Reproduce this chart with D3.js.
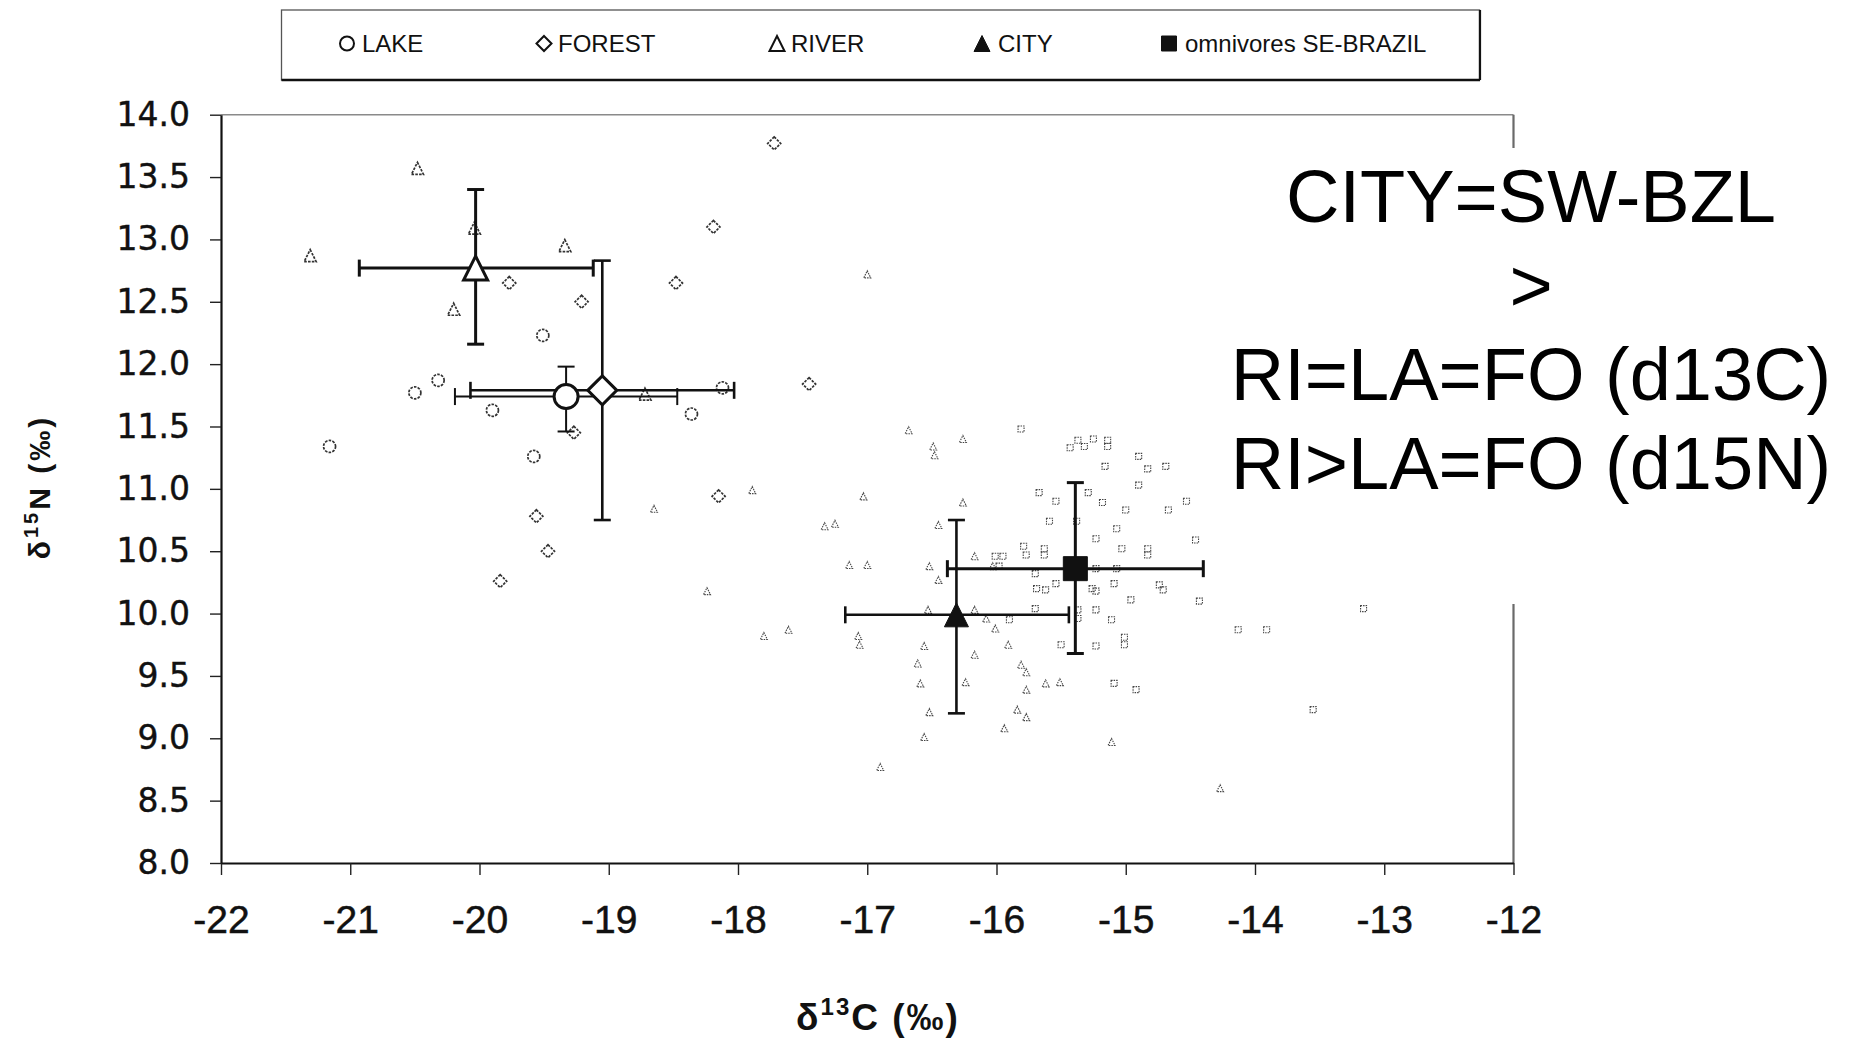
<!DOCTYPE html>
<html><head><meta charset="utf-8">
<script src="https://cdn.jsdelivr.net/npm/d3@7"></script>
<style>body{margin:0;background:#fff}svg{display:block}</style>
</head><body>
<svg id="c" width="1854" height="1042"></svg>
<script>
// ---------- DATA ----------
const xTickValues = [-22,-21,-20,-19,-18,-17,-16,-15,-14,-13,-12];
const xTickLabels = ["-22","-21","-20","-19","-18","-17","-16","-15","-14","-13","-12"];
const yTickValues = [8,8.5,9,9.5,10,10.5,11,11.5,12,12.5,13,13.5,14];
const yTickLabels = ["8.0","8.5","9.0","9.5","10.0","10.5","11.0","11.5","12.0","12.5","13.0","13.5","14.0"];

const seriesNames = ["LAKE","FOREST","RIVER","CITY","omnivores SE-BRAZIL"];

// individual samples [d13C, d15N]
const lakePoints = [[-21.16,11.34],[-20.50,11.77],[-20.32,11.87],[-19.90,11.63],[-19.51,12.23],
  [-19.58,11.26],[-18.36,11.60],[-18.12,11.81]];
const forestPoints = [[-17.72,13.77],[-18.19,13.10],[-18.48,12.65],[-19.77,12.65],[-19.21,12.50],
  [-17.45,11.84],[-19.27,11.45],[-18.15,10.94],[-19.56,10.78],[-19.47,10.50],[-19.84,10.26]];
const riverPoints = [[-21.31,12.87],[-20.48,13.57],[-20.20,12.44],[-20.04,13.09],[-19.34,12.95],[-18.72,11.76]];
const cityPoints = [[-17.00,12.72],[-17.89,10.99],[-18.65,10.84],[-18.24,10.18],[-16.68,11.47],[-16.26,11.40],
  [-16.49,11.34],[-16.48,11.27],[-17.03,10.94],[-16.26,10.89],[-16.45,10.71],[-17.33,10.70],[-17.25,10.72],
  [-17.14,10.39],[-17.00,10.39],[-16.52,10.38],[-16.17,10.46],[-16.03,10.38],[-16.45,10.27],[-16.17,10.03],
  [-16.53,10.03],[-16.08,9.96],[-16.01,9.88],[-17.07,9.82],[-17.06,9.75],[-17.61,9.87],[-17.80,9.82],
  [-16.56,9.74],[-16.61,9.60],[-16.17,9.67],[-15.91,9.75],[-15.81,9.59],[-15.77,9.53],[-16.59,9.44],
  [-16.24,9.45],[-15.62,9.44],[-15.51,9.45],[-15.77,9.39],[-15.84,9.23],[-15.77,9.17],[-16.52,9.21],
  [-15.94,9.08],[-16.56,9.01],[-16.90,8.77],[-15.11,8.97],[-14.27,8.60]];
const omniPoints = [[-15.81,11.48],[-15.37,11.39],[-15.25,11.40],[-15.14,11.39],[-15.43,11.33],[-15.32,11.34],
  [-15.14,11.34],[-14.90,11.26],[-15.16,11.18],[-14.83,11.16],[-14.69,11.18],[-14.90,11.03],[-15.67,10.97],
  [-15.54,10.90],[-15.29,10.97],[-15.18,10.89],[-15.00,10.83],[-14.67,10.83],[-14.53,10.90],[-15.59,10.74],
  [-15.38,10.74],[-15.07,10.68],[-15.23,10.60],[-15.03,10.52],[-14.83,10.52],[-14.83,10.47],[-14.46,10.59],
  [-16.01,10.46],[-15.95,10.46],[-15.79,10.54],[-15.63,10.52],[-15.77,10.47],[-15.63,10.47],[-15.98,10.38],
  [-15.70,10.32],[-15.69,10.20],[-15.62,10.19],[-15.54,10.24],[-15.23,10.36],[-15.07,10.36],[-15.26,10.20],
  [-15.23,10.18],[-15.09,10.24],[-14.74,10.23],[-14.71,10.19],[-14.96,10.11],[-14.43,10.10],[-15.90,9.95],
  [-15.70,10.04],[-15.23,10.03],[-15.11,9.95],[-15.37,10.03],[-15.37,9.96],[-15.50,9.75],[-15.23,9.74],
  [-15.01,9.81],[-15.01,9.75],[-15.09,9.44],[-14.92,9.39],[-14.13,9.87],[-13.91,9.87],[-13.55,9.23],[-13.16,10.04]];

// group means with error-bar extents (order = seriesNames)
const meanX = [-19.33,-19.05,-20.03,-16.31,-15.39];
const meanY = [11.74,11.79,12.77,9.99,10.36];
const xLow  = [-20.19,-20.07,-20.93,-17.17,-16.38];
const xHigh = [-18.47,-18.03,-19.12,-15.44,-14.40];
const yLow  = [11.46,10.75,12.16,9.20,9.68];
const yHigh = [11.98,12.83,13.40,10.75,11.05];

const noteLines = ["CITY=SW-BZL", ">", "RI=LA=FO (d13C)", "RI>LA=FO (d15N)"];

// ---------- SETUP ----------
const svg = d3.select("#c");
const x = d3.scaleLinear().domain([-22,-12]).range([221,1513.5]);
const y = d3.scaleLinear().domain([8,14]).range([863,114.7]);

const circType = {draw(c,s){const r=Math.sqrt(s)/2;c.moveTo(r,0);c.arc(0,0,r,0,2*Math.PI);}};
const diaType  = {draw(c,s){const h=Math.sqrt(s)/2;c.moveTo(0,-h);c.lineTo(h,0);c.lineTo(0,h);c.lineTo(-h,0);c.closePath();}};
const triType  = {draw(c,s){const h=Math.sqrt(s)/2;c.moveTo(0,-h);c.lineTo(h,h);c.lineTo(-h,h);c.closePath();}};
const sqType   = {draw(c,s){const h=Math.sqrt(s)/2;c.rect(-h,-h,2*h,2*h);}};
const sym = (t,w)=>d3.symbol().type(t).size(w*w)();
const types = [circType, diaType, triType, triType, sqType];
const filled = [false,false,false,true,true];

// ---------- FRAME ----------
svg.append("line").attr("x1",x(-22)).attr("x2",x(-12)).attr("y1",y(14)).attr("y2",y(14))
  .attr("stroke","#8a8a8a").attr("stroke-width",1.6);
svg.append("line").attr("x1",x(-12)).attr("x2",x(-12)).attr("y1",y(14)).attr("y2",y(8))
  .attr("stroke","#6a6a6a").attr("stroke-width",2.2);

const gx = svg.append("g").attr("transform",`translate(0,${y(8)})`)
  .call(d3.axisBottom(x).tickValues(xTickValues).tickFormat((d,i)=>xTickLabels[i])
    .tickSizeInner(12).tickSizeOuter(0).tickPadding(30));
gx.select(".domain").attr("stroke","#111").attr("stroke-width",2.2);
gx.selectAll(".tick line").attr("stroke","#222").attr("stroke-width",1.4);
gx.selectAll(".tick text").attr("font-family","'Liberation Sans',Arial,sans-serif")
  .attr("font-size",39).attr("fill","#111").attr("stroke","#111").attr("stroke-width",0.5);

const gy = svg.append("g").attr("transform",`translate(${x(-22)},0)`)
  .call(d3.axisLeft(y).tickValues(yTickValues).tickFormat((d,i)=>yTickLabels[i])
    .tickSizeInner(11).tickSizeOuter(0).tickPadding(20));
gy.select(".domain").attr("stroke","#111").attr("stroke-width",2.2);
gy.selectAll(".tick line").attr("stroke","#222").attr("stroke-width",1.4);
gy.selectAll(".tick text").attr("font-family","'DejaVu Sans',sans-serif")
  .attr("font-size",33).attr("fill","#111").attr("stroke","#111").attr("stroke-width",0.4);

// axis titles
const xt = svg.append("text").attr("x",878).attr("y",1030).attr("text-anchor","middle")
  .attr("font-family","'Liberation Sans',Arial,sans-serif").attr("font-weight","bold")
  .attr("font-size",37).attr("letter-spacing",2).attr("fill","#111");
xt.append("tspan").text("δ");
xt.append("tspan").attr("font-size",24).attr("dy",-15).text("13");
xt.append("tspan").attr("dy",15).text("C (‰)");

const yt = svg.append("text").attr("transform","translate(50,487) rotate(-90)").attr("text-anchor","middle")
  .attr("font-family","'Liberation Sans',Arial,sans-serif").attr("font-weight","bold")
  .attr("font-size",30).attr("letter-spacing",3).attr("fill","#111");
yt.append("tspan").text("δ");
yt.append("tspan").attr("font-size",20).attr("dy",-12).text("15");
yt.append("tspan").attr("dy",12).text("N (‰)");

// ---------- SPECKS (CITY + omnivores individual) ----------
const plot = svg.append("g");
plot.selectAll(".cp").data(cityPoints).join("path")
  .attr("transform",d=>`translate(${x(d[0])},${y(d[1])})`).attr("d",sym(triType,7))
  .attr("fill","none").attr("stroke","#444").attr("stroke-width",1.1).attr("stroke-dasharray","1.5,1");
plot.selectAll(".op").data(omniPoints).join("path")
  .attr("transform",d=>`translate(${x(d[0])},${y(d[1])})`).attr("d",sym(sqType,6))
  .attr("fill","none").attr("stroke","#444").attr("stroke-width",1.1).attr("stroke-dasharray","1.5,1");

// open group samples
[[lakePoints,circType,12],[forestPoints,diaType,13],[riverPoints,triType,12]].forEach(([pts,t,w])=>{
  plot.append("g").selectAll("path").data(pts).join("path")
    .attr("transform",d=>`translate(${x(d[0])},${y(d[1])})`).attr("d",sym(t,w))
    .attr("fill","white").attr("stroke","#333").attr("stroke-width",1.7).attr("stroke-dasharray","2.6,1.2");
});

// ---------- ERROR BARS + MEANS ----------
const errW = [2,2.6,3,2.6,3];
const cap = 17;
const mw = [24,29,24,24,24];
const eb = svg.append("g");
seriesNames.forEach((n,i)=>{
  const g = eb.append("g").attr("stroke","#111").attr("stroke-width",errW[i]);
  g.append("line").attr("x1",x(xLow[i])).attr("x2",x(xHigh[i])).attr("y1",y(meanY[i])).attr("y2",y(meanY[i]));
  g.append("line").attr("x1",x(meanX[i])).attr("x2",x(meanX[i])).attr("y1",y(yLow[i])).attr("y2",y(yHigh[i]));
  [xLow[i],xHigh[i]].forEach(v=>g.append("line").attr("x1",x(v)).attr("x2",x(v))
    .attr("y1",y(meanY[i])-cap/2).attr("y2",y(meanY[i])+cap/2));
  [yLow[i],yHigh[i]].forEach(v=>g.append("line").attr("y1",y(v)).attr("y2",y(v))
    .attr("x1",x(meanX[i])-cap/2).attr("x2",x(meanX[i])+cap/2));
});
seriesNames.forEach((n,i)=>{
  svg.append("path").attr("transform",`translate(${x(meanX[i])},${y(meanY[i])})`)
    .attr("d",sym(types[i],mw[i])).attr("fill",filled[i]?"#111":"white")
    .attr("stroke","#111").attr("stroke-width",filled[i]?1:3);
});

// ---------- ANNOTATION ----------
svg.append("rect").attr("x",1222).attr("y",148).attr("width",632).attr("height",456).attr("fill","white");
svg.append("g").selectAll("text").data(noteLines).join("text")
  .attr("x",1531).attr("y",(d,i)=>222+i*89).attr("text-anchor","middle")
  .attr("font-family","'Liberation Sans',Arial,sans-serif").attr("font-size",74).attr("fill","#000")
  .text(d=>d);

// ---------- LEGEND ----------
const lg = svg.append("g");
lg.append("rect").attr("x",281.5).attr("y",10).attr("width",1198).attr("height",70)
  .attr("fill","white").attr("stroke","#555").attr("stroke-width",1.3);
lg.append("line").attr("x1",281.5).attr("x2",1480).attr("y1",80).attr("y2",80).attr("stroke","#111").attr("stroke-width",2.5);
lg.append("line").attr("x1",1480).attr("x2",1480).attr("y1",10).attr("y2",80).attr("stroke","#111").attr("stroke-width",2.2);
const legSymX = [347,544,777,982,1169];
const legTxtX = [362,558,791,998,1185];
const legW = [14,15,15,16,15];
seriesNames.forEach((n,i)=>{
  lg.append("path").attr("transform",`translate(${legSymX[i]},43.5)`).attr("d",sym(types[i],legW[i]))
    .attr("fill",filled[i]?"#111":"white").attr("stroke","#111").attr("stroke-width",filled[i]?1:2);
  lg.append("text").attr("x",legTxtX[i]).attr("y",52).attr("font-family","'Liberation Sans',Arial,sans-serif")
    .attr("font-size",24).attr("fill","#111").text(n);
});
</script>
</body></html>
